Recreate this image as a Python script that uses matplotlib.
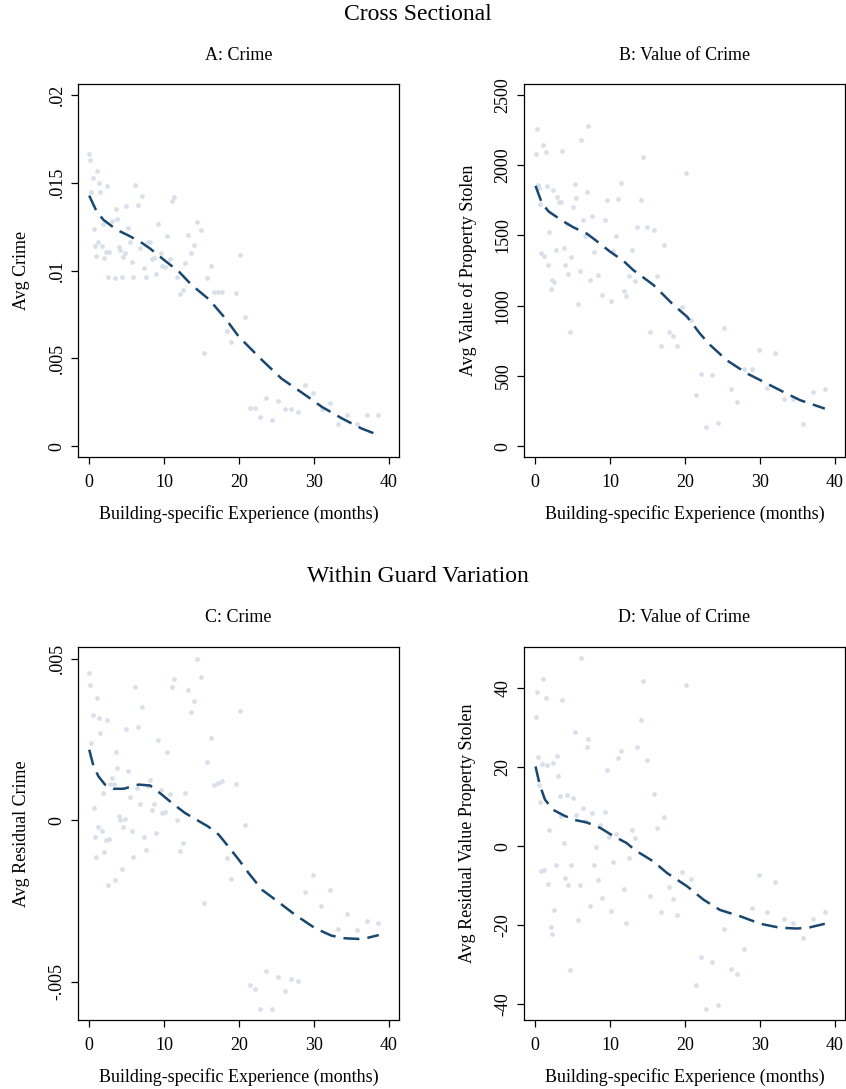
import matplotlib
matplotlib.use("Agg")
import matplotlib.pyplot as plt

plt.rcParams['font.family'] = ['Liberation Serif', 'DejaVu Serif']
plt.rcParams['axes.unicode_minus'] = False

DOT = '#d9e0e9'
LINE = '#1a476f'

# Panel A: crime, cross sectional
a_x = [0.0, 0.13, 1.02, 0.45, 1.34, 2.36, 0.27, 1.47, 6.10, 7.04, 6.55, 4.94, 3.56, 3.74,
       3.03, 1.87, 0.58, 5.17, 9.22, 11.05, 11.36, 14.43, 14.88, 13.23, 10.42, 1.20, 0.76,
       1.65, 0.89, 2.18, 2.67, 2.00, 3.92, 4.14, 4.77, 4.54, 5.39, 6.82, 7.80, 8.11, 9.53,
       8.37, 8.64, 10.73, 5.66, 7.31, 8.91, 7.57, 5.88, 4.37, 3.43, 2.54, 9.76, 10.11, 11.76,
       12.83, 14.03, 13.63, 16.21, 15.77, 20.13, 12.47, 12.12, 16.70, 17.24, 17.77, 19.55,
       20.80, 18.35, 18.89, 15.28, 21.47, 22.18, 23.61, 22.85, 24.41, 25.21, 26.10, 26.99,
       27.93, 28.86, 29.93, 32.12, 31.09, 33.23, 34.43, 35.77, 37.15, 38.66]
a_y = [0.01662, 0.01626, 0.01567, 0.01529, 0.01495, 0.01479, 0.01445, 0.01445, 0.01487,
       0.01422, 0.01373, 0.01367, 0.01352, 0.01295, 0.01284, 0.01265, 0.01236, 0.01244,
       0.01265, 0.01394, 0.01417, 0.01274, 0.01229, 0.01202, 0.01194, 0.01162, 0.01139,
       0.01139, 0.01082, 0.01107, 0.01107, 0.01073, 0.01136, 0.01117, 0.01098, 0.01079,
       0.01160, 0.01126, 0.01162, 0.01164, 0.01101, 0.01063, 0.01071, 0.01067, 0.01050,
       0.01012, 0.00982, 0.00965, 0.00965, 0.00961, 0.00957, 0.00961, 0.01025, 0.01018,
       0.00965, 0.01041, 0.01143, 0.01101, 0.01024, 0.00957, 0.01088, 0.00891, 0.00864,
       0.00877, 0.00875, 0.00879, 0.00872, 0.00733, 0.00655, 0.00591, 0.00530, 0.00220,
       0.00215, 0.00272, 0.00165, 0.00150, 0.00258, 0.00213, 0.00213, 0.00196, 0.00346,
       0.00304, 0.00249, 0.00213, 0.00129, 0.00179, 0.00129, 0.00179, 0.00179]
a_fit_x = [0, 1.0, 1.9, 3.7, 5.3, 7.0, 8.1, 10, 12, 13.7, 16, 18.2, 20, 23.1, 25.7, 28.9,
           31.1, 33.8, 36.4, 38.7]
a_fit_y = [0.01426, 0.01335, 0.01288, 0.01231, 0.01198, 0.01158, 0.01126, 0.0106, 0.00993,
           0.00917, 0.00836, 0.00727, 0.00623, 0.0049, 0.00385, 0.00291, 0.00224, 0.00158,
           0.00101, 0.00063]

# Panel B: value of crime, cross sectional
b_x = [0.18, 0.04, 1.07, 1.42, 3.61, 6.14, 7.08, 14.47, 20.17, 0.31, 0.45, 1.56, 2.40, 2.89,
       3.21, 3.43, 0.67, 5.25, 5.43, 6.86, 4.99, 11.40, 11.09, 9.57, 14.07, 7.61, 6.37, 9.26,
       4.19, 1.87, 13.62, 14.92, 15.81, 6.59, 10.77, 17.23, 0.76, 1.20, 2.72, 3.78, 4.81,
       7.88, 10.42, 12.87, 1.69, 4.01, 2.18, 2.54, 2.05, 4.41, 5.92, 7.35, 8.41, 12.51,
       13.27, 16.25, 11.80, 12.15, 8.95, 10.15, 5.70, 4.59, 19.59, 20.79, 15.36, 17.85,
       18.39, 16.79, 18.92, 25.24, 22.17, 23.64, 21.50, 22.88, 24.44, 26.13, 27.03, 27.92,
       28.94, 29.92, 32.10, 30.99, 33.26, 34.51, 35.75, 37.18, 38.69]
b_y = [2258, 2075, 2144, 2092, 2103, 2177, 2279, 2054, 1942, 1859, 1835, 1852, 1823, 1771,
       1735, 1735, 1726, 1864, 1762, 1807, 1702, 1875, 1757, 1750, 1752, 1640, 1610, 1607,
       1579, 1522, 1560, 1557, 1536, 1498, 1498, 1432, 1377, 1356, 1394, 1408, 1344, 1382,
       1386, 1394, 1291, 1287, 1185, 1170, 1118, 1225, 1244, 1185, 1220, 1208, 1178, 1208,
       1106, 1071, 1075, 1033, 1011, 810, 990, 895, 812, 810, 783, 712, 712, 838, 513, 510,
       363, 138, 164, 406, 318, 548, 548, 686, 662, 415, 339, 339, 159, 385, 406]
b_fit_x = [0.04, 0.9, 1.8, 3.8, 5.1, 6.9, 8.2, 10.0, 11.8, 13.1, 15.8, 18.5, 20.3, 22.0,
           23.4, 25.6, 28.3, 30.1, 32.7, 35.4, 38.7]
b_fit_y = [1852, 1728, 1669, 1598, 1557, 1512, 1460, 1384, 1318, 1253, 1147, 1004, 921, 802,
           719, 612, 518, 470, 399, 328, 268]

# Panel C: residual crime, within guard
c_x = [0.0, 0.13, 1.02, 0.45, 1.34, 2.36, 1.47, 0.27, 6.10, 7.04, 6.55, 4.94, 3.56, 3.74,
       5.21, 3.03, 2.80, 3.25, 1.87, 0.58, 5.43, 6.37, 6.82, 8.06, 7.80, 8.64, 8.37, 9.22,
       9.53, 10.42, 10.73, 9.76, 10.11, 11.05, 11.36, 13.23, 14.43, 14.88, 14.03, 13.63,
       12.83, 11.76, 12.47, 12.12, 16.21, 15.77, 16.70, 17.24, 17.77, 19.55, 20.13, 20.80,
       18.35, 18.89, 15.28, 1.20, 0.76, 1.65, 0.89, 2.18, 2.67, 2.00, 3.92, 4.14, 4.77, 4.54,
       5.66, 7.31, 8.91, 7.57, 5.88, 4.37, 3.43, 2.54, 21.47, 22.18, 23.61, 22.85, 24.41,
       25.21, 26.10, 26.99, 27.93, 28.86, 29.93, 31.0, 32.12, 33.23, 34.43, 35.77, 37.15,
       38.66]
c_y = [0.00455, 0.00419, 0.00379, 0.00325, 0.00316, 0.00310, 0.00271, 0.00239, 0.00411,
       0.00351, 0.00289, 0.00281, 0.00212, 0.00162, 0.00153, 0.00129, 0.00113, 0.00113,
       0.00085, 0.00039, 0.00072, 0.00099, 0.00050, 0.00123, 0.00105, 0.00049, 0.00031,
       0.00247, 0.00093, 0.00210, 0.00080, 0.00022, 0.00024, 0.00411, 0.00437, 0.00404,
       0.00498, 0.00443, 0.00370, 0.00336, 0.00083, 0.00001, -0.00071, -0.00096, 0.00255,
       0.00179, 0.00110, 0.00116, 0.00121, 0.00113, 0.00338, -0.00015, -0.00117, -0.00183,
       -0.00258, -0.00020, -0.00051, -0.00033, -0.00115, -0.00062, -0.00057, -0.00099,
       0.00012, -0.00001, 0.00003, -0.00021, -0.00033, -0.00051, -0.00039, -0.00094,
       -0.00115, -0.00150, -0.00184, -0.00200, -0.00512, -0.00522, -0.00467, -0.00584,
       -0.00586, -0.00486, -0.00529, -0.00491, -0.00498, -0.00223, -0.00170, -0.00265,
       -0.00216, -0.00337, -0.00291, -0.00340, -0.00312, -0.00318]
c_fit_x = [0, 0.58, 1.25, 2.1, 3.25, 4.6, 6.6, 8.15, 9.7, 11.05, 12.8, 15.9, 17.3, 18.6,
           20.0, 21.3, 23.1, 24.9, 27.5, 30.2, 32.4, 34.2, 36.0, 37.3, 38.7]
c_fit_y = [0.00218, 0.00166, 0.00135, 0.0011, 0.00097, 0.00097, 0.0011, 0.00107, 0.00079,
           0.00053, 0.00022, -0.0002, -0.00045, -0.00082, -0.00123, -0.00164, -0.00216,
           -0.00247, -0.00293, -0.00335, -0.00358, -0.00366, -0.00368, -0.00364, -0.00356]

# Panel D: residual value of crime, within guard
d_x = [6.14, 1.07, 0.18, 1.42, 3.61, 14.47, 20.17, 0.04, 14.07, 5.25, 7.08, 6.86, 11.40,
       13.62, 11.09, 14.92, 0.31, 2.89, 0.94, 1.56, 2.40, 9.57, 3.07, 0.49, 0.67, 15.81,
       3.25, 4.23, 4.99, 17.23, 3.43, 5.43, 6.37, 7.61, 9.26, 6.59, 8.68, 1.87, 16.25, 12.87,
       13.27, 10.77, 9.88, 3.78, 8.10, 12.51, 10.42, 7.84, 2.72, 4.81, 0.76, 1.20, 4.01,
       8.41, 1.69, 4.41, 5.92, 11.80, 19.59, 20.79, 17.85, 15.36, 18.39, 8.95, 7.30, 10.15,
       2.54, 16.79, 18.92, 5.70, 12.15, 2.05, 2.18, 4.59, 29.92, 32.10, 28.94, 30.99, 33.26,
       34.51, 37.18, 38.69, 35.75, 25.24, 27.92, 22.17, 23.64, 26.13, 27.03, 21.50, 22.88,
       24.44]
d_y = [47.7, 42.5, 39.2, 37.5, 37.0, 42.0, 40.8, 32.8, 32.1, 28.9, 27.1, 25.1, 24.2, 25.1,
       22.3, 21.9, 22.7, 22.8, 20.9, 20.6, 21.1, 19.3, 17.7, 15.5, 11.2, 13.3, 12.8, 13.0,
       12.2, 7.4, 7.7, 7.9, 9.6, 8.5, 8.7, 6.3, 5.4, 4.1, 4.6, 4.1, 2.1, 3.0, 2.4, 0.8, -0.3,
       -3.0, -4.1, -4.7, -4.7, -4.8, -6.3, -6.0, -8.1, -8.6, -9.6, -9.8, -9.9, -11.0, -6.5,
       -8.3, -10.3, -12.6, -13.3, -13.2, -15.3, -16.4, -16.1, -16.7, -17.4, -18.7, -19.5,
       -20.6, -22.4, -31.4, -7.3, -9.0, -15.6, -16.7, -18.4, -19.6, -18.4, -16.7, -23.4,
       -21.1, -26.0, -28.1, -29.3, -31.2, -32.5, -35.1, -41.4, -40.2]
d_fit_x = [0.04, 0.6, 1.3, 2.4, 3.8, 5.1, 6.9, 8.7, 10.5, 12.2, 13.4, 15.8, 17.6, 20.3, 22.5,
           24.7, 27.4, 30.1, 32.7, 35.0, 36.7, 38.7]
d_fit_y = [20.2, 15.6, 11.8, 9.2, 7.8, 6.7, 6.0, 4.6, 2.5, 0.8, -1.1, -3.9, -6.8, -10.2,
           -13.6, -16.2, -17.8, -19.7, -20.7, -20.9, -20.6, -19.7]

x_ticks = [0, 10, 20, 30, 40]

W, H = 846, 1089
fig = plt.figure(figsize=(W / 100, H / 100), dpi=100)


def px_axes(left, top, right, bottom):
    return fig.add_axes([left / W, 1 - bottom / H, (right - left) / W, (bottom - top) / H])


def panel(ax, title, xs, ys, fx, fy, ylim, yticks, yticklabels, ylabel):
    ax.scatter(xs, ys, s=12, color=DOT, linewidths=0, zorder=2)
    ax.plot(fx, fy, color=LINE, lw=1.8, dashes=(6.4, 3.2), zorder=3)
    ax.set_xlim(-1.5, 41.4)
    ax.set_ylim(*ylim)
    ax.set_xticks(x_ticks)
    ax.set_yticks(yticks)
    ax.set_yticklabels(yticklabels, rotation=90, va='center')
    ax.tick_params(direction='out', length=5, width=0.9, labelsize=13, pad=4)
    ax.tick_params(axis='x', pad=7)
    for s in ax.spines.values():
        s.set_linewidth(0.9)
    h = ax.get_position().height * H
    ax.text(0.5, 1 + 29 / h, title, transform=ax.transAxes, ha='center', va='center',
            fontsize=13)
    ax.set_xlabel('Building-specific Experience (months)', fontsize=13, va='center')
    ax.xaxis.set_label_coords(0.5, -57 / h)
    ax.set_ylabel(ylabel, fontsize=13, va='center')
    ax.yaxis.set_label_coords(-0.175, 0.5)


ax_a = px_axes(78, 84, 399, 457)
panel(ax_a, 'A: Crime', a_x, a_y, a_fit_x, a_fit_y, (-0.00061, 0.02061),
      [0, 0.005, 0.01, 0.015, 0.02], ['0', '.005', '.01', '.015', '.02'], 'Avg Crime')

ax_b = px_axes(524, 84, 845, 457)
panel(ax_b, 'B: Value of Crime', b_x, b_y, b_fit_x, b_fit_y, (-76, 2576),
      [0, 500, 1000, 1500, 2000, 2500], ['0', '500', '1000', '1500', '2000', '2500'],
      'Avg Value of Property Stolen')

ax_c = px_axes(78, 647, 399, 1020)
panel(ax_c, 'C: Crime', c_x, c_y, c_fit_x, c_fit_y, (-0.00619, 0.00536),
      [-0.005, 0, 0.005], ['-.005', '0', '.005'], 'Avg Residual Crime')

ax_d = px_axes(524, 647, 845, 1020)
panel(ax_d, 'D: Value of Crime', d_x, d_y, d_fit_x, d_fit_y, (-44.1, 50.5),
      [-40, -20, 0, 20, 40], ['-40', '-20', '0', '20', '40'],
      'Avg Residual Value Property Stolen')

fig.text(418 / W, 1 - 14 / H, 'Cross Sectional', ha='center', va='center', fontsize=17)
fig.text(418 / W, 1 - 577 / H, 'Within Guard Variation', ha='center', va='center', fontsize=17)

fig.savefig('out.png', dpi=100)
